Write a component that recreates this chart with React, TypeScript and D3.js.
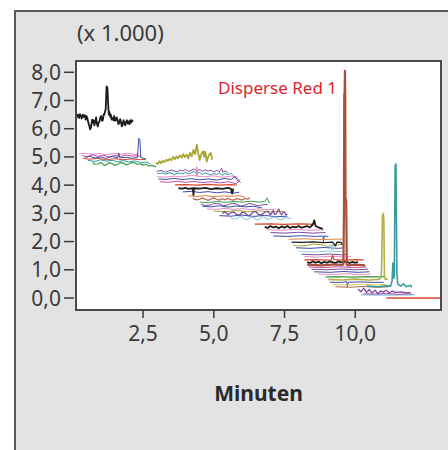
import React from "react";
import * as d3 from "d3";

// ---------- data (time in min, intensity in x1000) ----------
const xTicks = [2.5, 5.0, 7.5, 10.0];
const yTicks = [0, 1, 2, 3, 4, 5, 6, 7, 8];
const yUnitLabel = "(x 1.000)";
const xTitle = "Minuten";
const peakLabel = "Disperse Red 1";

type P = [number, number];

const w1Black: P[] = [[0.13,6.55],[0.17,6.42],[0.2,6.5],[0.24,6.38],[0.27,6.52],[0.31,6.44],[0.33,6.36],[0.37,6.5],[0.4,6.42],[0.44,6.48],[0.47,6.32],[0.5,6.45],[0.53,6.38],[0.57,6.2],[0.6,6.1],[0.63,5.98],[0.66,6.05],[0.7,6.32],[0.72,6.22],[0.75,6.3],[0.78,6.12],[0.81,6.25],[0.84,6.4],[0.87,6.18],[0.9,6.08],[0.93,6.22],[0.96,6.25],[0.99,6.4],[1.02,6.45],[1.05,6.28],[1.08,6.3],[1.11,6.52],[1.13,6.5],[1.16,6.62],[1.18,6.7],[1.21,7.5],[1.24,7.45],[1.27,6.8],[1.29,6.5],[1.31,6.6],[1.34,6.42],[1.36,6.5],[1.39,6.32],[1.42,6.38],[1.45,6.3],[1.48,6.45],[1.51,6.28],[1.54,6.3],[1.57,6.4],[1.6,6.3],[1.63,6.16],[1.66,6.22],[1.69,6.34],[1.72,6.24],[1.75,6.08],[1.78,6.15],[1.81,6.3],[1.84,6.2],[1.87,6.12],[1.9,6.24],[1.93,6.3],[1.96,6.18],[1.99,6.26],[2.02,6.16],[2.05,6.3],[2.08,6.22],[2.11,6.3],[2.14,6.25]];

const w2Pink: P[] = [[0.25,5.1],[0.45,5.13],[0.7,5.09],[0.95,5.12],[1.2,5.08],[1.45,5.12],[1.7,5.1],[1.95,5.13],[2.2,5.09],[2.33,5.11]];
const w2Magenta: P[] = [[0.35,5.05],[0.55,5.0],[0.7,5.08],[0.9,5.02],[1.1,5.06],[1.3,5.0],[1.5,5.05],[1.7,5.02],[1.9,5.07],[2.1,5.03],[2.3,5.05],[2.45,5.0]];
const w2Blue: P[] = [[0.45,4.98],[0.6,5.03],[0.8,4.96],[1.0,5.0],[1.2,4.95],[1.4,5.02],[1.6,4.97],[1.64,5.14],[1.68,4.97],[1.9,4.99],[2.1,4.95],[2.3,4.98],[2.35,5.66],[2.39,5.6],[2.42,4.98],[2.6,4.93]];
const w2Red: P[] = [[0.37,4.95],[0.6,4.92],[0.9,4.95],[1.2,4.9],[1.5,4.94],[1.8,4.9],[2.1,4.93],[2.4,4.9],[2.6,4.92]];
const w2Teal: P[] = [[0.55,4.88],[0.8,4.84],[1.0,4.9],[1.2,4.85],[1.4,4.88],[1.6,4.83],[1.8,4.87],[2.0,4.82],[2.2,4.86],[2.4,4.8],[2.6,4.82],[2.75,4.76]];
const w2Green: P[] = [[0.72,4.8],[0.8,4.74],[0.9,4.75],[1.0,4.8],[1.05,4.78],[1.12,4.7],[1.2,4.72],[1.3,4.79],[1.4,4.77],[1.5,4.7],[1.6,4.74],[1.7,4.8],[1.8,4.78],[1.9,4.72],[2.0,4.75],[2.1,4.8],[2.2,4.79],[2.3,4.73],[2.4,4.76],[2.5,4.71],[2.6,4.74],[2.7,4.68],[2.8,4.7],[2.96,4.65]];

const w3Olive: P[] = [[2.96,4.8],[3.02,4.75],[3.08,4.85],[3.14,4.78],[3.2,4.86],[3.26,4.82],[3.32,4.9],[3.38,4.86],[3.44,4.93],[3.5,4.88],[3.56,5.0],[3.62,4.92],[3.68,5.02],[3.74,4.95],[3.8,5.05],[3.86,4.98],[3.92,5.1],[3.98,5.0],[4.04,5.08],[4.1,4.95],[4.16,5.15],[4.22,5.02],[4.28,5.25],[4.34,5.1],[4.4,5.43],[4.44,5.2],[4.5,4.89],[4.56,5.1],[4.62,5.2],[4.66,5.0],[4.7,5.19],[4.75,4.83],[4.8,5.0],[4.85,5.1],[4.9,5.14],[4.94,4.9]];

const w4Purple: P[] = [[2.98,4.48],[3.1,4.52],[3.2,4.5],[3.3,4.46],[3.4,4.5],[3.5,4.54],[3.6,4.5],[3.7,4.47],[3.8,4.53],[3.9,4.5],[4.0,4.56],[4.1,4.49],[4.2,4.52],[4.3,4.58],[4.4,4.5],[4.5,4.55],[4.6,4.49],[4.7,4.54],[4.8,4.5],[4.9,4.53],[5.0,4.47],[5.1,4.52],[5.2,4.48],[5.28,4.6],[5.32,4.46],[5.4,4.5],[5.5,4.45]];
const w4Teal: P[] = [[3.0,4.4],[3.15,4.43],[3.3,4.39],[3.45,4.44],[3.6,4.38],[3.75,4.43],[3.9,4.4],[4.0,4.46],[4.1,4.4],[4.2,4.44],[4.3,4.48],[4.4,4.41],[4.5,4.45],[4.6,4.38],[4.7,4.44],[4.8,4.4],[4.9,4.36],[5.0,4.42],[5.1,4.38],[5.2,4.43],[5.3,4.35],[5.4,4.41],[5.5,4.38],[5.6,4.42],[5.7,4.33]];
const w4Pink: P[] = [[3.0,4.3],[3.3,4.28],[3.6,4.32],[3.9,4.29],[4.2,4.35],[4.38,4.32],[4.4,4.66],[4.43,4.3],[4.7,4.3],[5.0,4.33],[5.3,4.28],[5.6,4.32],[5.8,4.3],[5.9,4.15]];
const w4Blue: P[] = [[3.05,4.22],[3.3,4.2],[3.6,4.24],[3.9,4.2],[4.2,4.23],[4.5,4.19],[4.8,4.22],[5.1,4.18],[5.4,4.24],[5.6,4.2],[5.75,4.3],[5.85,4.15],[5.95,4.1]];
const w4Magenta: P[] = [[3.1,4.12],[3.4,4.1],[3.7,4.14],[4.0,4.1],[4.3,4.13],[4.6,4.09],[4.9,4.12],[5.2,4.08],[5.5,4.12],[5.8,4.05],[5.93,4.2]];

const w5Red: P[] = [[3.63,4.01],[4.0,4.02],[4.4,4.0],[4.8,4.03],[5.2,4.0],[5.6,4.02],[5.81,4.0]];
const w5Black: P[] = [[3.75,3.89],[3.9,3.88],[4.0,3.9],[4.1,3.87],[4.26,3.89],[4.28,3.65],[4.3,3.89],[4.5,3.88],[4.7,3.9],[4.9,3.86],[5.1,3.89],[5.3,3.87],[5.5,3.9],[5.6,3.88],[5.65,3.7],[5.69,3.88]];
const w5Blue: P[] = [[3.9,3.76],[4.2,3.78],[4.5,3.74],[4.8,3.77],[5.1,3.73],[5.4,3.76],[5.7,3.72],[5.9,3.75]];
const w5Orange: P[] = [[4.1,3.62],[4.4,3.6],[4.7,3.63],[5.0,3.59],[5.3,3.62],[5.6,3.6],[5.9,3.63],[6.1,3.58]];
const w5Red2: P[] = [[4.26,3.52],[4.4,3.48],[4.5,3.5],[4.6,3.54],[4.7,3.5],[4.8,3.46],[4.9,3.51],[5.0,3.55],[5.1,3.5],[5.2,3.47],[5.3,3.52],[5.4,3.48],[5.5,3.53],[5.6,3.49],[5.7,3.47],[5.8,3.52],[5.9,3.5],[6.0,3.47],[6.1,3.53],[6.2,3.5],[6.28,3.55]];

const w6Green: P[] = [[4.5,3.4],[4.8,3.38],[5.1,3.42],[5.4,3.39],[5.7,3.42],[6.0,3.4],[6.3,3.43],[6.6,3.4],[6.8,3.42],[6.88,3.55],[6.95,3.38],[7.0,3.4]];
const w6Purple: P[] = [[4.55,3.32],[4.7,3.28],[4.9,3.3],[5.0,3.35],[5.2,3.34],[5.35,3.27],[5.5,3.3],[5.65,3.36],[5.8,3.33],[5.95,3.26],[6.1,3.29],[6.25,3.35],[6.4,3.32],[6.55,3.27],[6.7,3.3],[6.9,3.32]];
const w6Blue: P[] = [[4.6,3.25],[4.9,3.23],[5.2,3.27],[5.5,3.22],[5.8,3.26],[6.1,3.23],[6.4,3.25],[6.7,3.2]];
const w6Pink: P[] = [[4.75,3.16],[5.1,3.14],[5.4,3.18],[5.7,3.14],[6.0,3.17],[6.3,3.13],[6.6,3.16],[6.9,3.13],[7.2,3.15]];

const w7Olive: P[] = [[5.0,3.08],[5.4,3.06],[5.8,3.1],[6.2,3.06],[6.6,3.09],[7.0,3.05],[7.3,3.08],[7.5,3.05]];
const w7Purple: P[] = [[5.3,3.0],[5.4,3.06],[5.5,2.95],[5.6,3.02],[5.7,3.05],[5.8,2.96],[5.9,2.93],[6.0,3.04],[6.1,3.02],[6.2,2.92],[6.3,2.95],[6.4,3.06],[6.5,3.05],[6.6,2.94],[6.7,2.96],[6.8,3.04],[6.9,3.08],[7.0,2.95],[7.05,3.02],[7.1,3.1],[7.15,2.96],[7.2,2.98],[7.25,3.06],[7.3,3.15],[7.35,3.0],[7.4,2.95],[7.45,3.04],[7.5,3.05],[7.55,2.94],[7.6,2.98]];
const w7Blue: P[] = [[5.2,2.92],[5.6,2.9],[6.0,2.94],[6.4,2.89],[6.8,2.93],[7.2,2.88],[7.6,2.9]];
const w7Cyan: P[] = [[5.6,2.85],[5.7,2.8],[5.8,2.8],[5.9,2.88],[6.0,2.88],[6.1,2.8],[6.2,2.78],[6.3,2.87],[6.4,2.86],[6.5,2.78],[6.6,2.79],[6.7,2.88],[6.8,2.87],[6.9,2.79],[7.0,2.8],[7.1,2.87],[7.2,2.86],[7.3,2.79],[7.4,2.78],[7.5,2.86],[7.6,2.84],[7.75,2.8]];

const w8Red: P[] = [[6.45,2.62],[7.0,2.63],[7.5,2.61],[8.0,2.63],[8.4,2.62],[8.5,2.6]];
const w8Black: P[] = [[6.8,2.52],[6.9,2.48],[7.0,2.55],[7.1,2.5],[7.2,2.53],[7.3,2.47],[7.4,2.54],[7.5,2.49],[7.6,2.55],[7.7,2.48],[7.8,2.53],[7.9,2.5],[8.0,2.55],[8.1,2.49],[8.2,2.52],[8.3,2.55],[8.4,2.5],[8.5,2.6],[8.55,2.75],[8.6,2.55],[8.7,2.5],[8.85,2.45]];
const w8Pink: P[] = [[6.9,2.42],[7.4,2.4],[7.9,2.43],[8.4,2.4],[8.9,2.42]];
const w8Purple: P[] = [[7.0,2.32],[7.5,2.3],[8.0,2.33],[8.5,2.3],[8.95,2.32]];
const w8Blue: P[] = [[7.1,2.2],[7.6,2.18],[8.1,2.21],[8.6,2.18],[8.86,2.2],[8.88,2.0],[8.9,2.2],[9.05,2.18]];

const w9Orange: P[] = [[7.65,2.08],[8.2,2.1],[8.8,2.07],[9.4,2.09],[9.55,2.08]];
const w9Black: P[] = [[7.75,1.98],[8.1,1.97],[8.5,1.99],[8.9,1.96],[9.2,1.98],[9.3,1.85],[9.35,1.98],[9.5,1.97],[9.55,1.88]];
const w9Olive: P[] = [[7.8,1.88],[8.0,1.84],[8.3,1.86],[8.5,1.91],[8.8,1.89],[9.0,1.84],[9.3,1.86],[9.45,1.9],[9.6,1.88]];
const w9Blue: P[] = [[7.9,1.78],[8.4,1.76],[8.9,1.79],[9.4,1.76],[9.6,1.78]];
const w9Cyan: P[] = [[8.0,1.65],[8.5,1.63],[9.0,1.66],[9.15,1.64],[9.18,1.92],[9.22,1.64],[9.5,1.65],[9.62,1.63]];
const w9Purple: P[] = [[8.1,1.55],[8.6,1.53],[9.1,1.56],[9.5,1.53],[9.7,1.55]];
const w9Pink: P[] = [[8.2,1.47],[8.7,1.45],[9.2,1.48],[9.7,1.45],[9.85,1.47]];

const w10Red: P[] = [[8.2,1.35],[8.6,1.36],[9.0,1.34],[9.15,1.35],[9.2,1.52],[9.25,1.36],[9.6,1.34],[10.0,1.36],[10.3,1.35]];
const w10Black: P[] = [[8.3,1.27],[8.4,1.24],[8.5,1.3],[8.6,1.25],[8.7,1.29],[8.8,1.23],[8.9,1.28],[9.0,1.25],[9.1,1.3],[9.3,1.24],[9.4,1.3],[9.5,1.26],[9.7,1.29],[9.8,1.24],[9.9,1.28],[10.0,1.25],[10.1,1.28]];
const w10DisperseRed: P[] = [[8.3,1.18],[8.8,1.16],[9.3,1.19],[9.55,1.17],[9.58,1.2],[9.6,3.0],[9.61,7.2],[9.625,7.3],[9.635,8.05],[9.645,7.2],[9.655,3.55],[9.68,3.45],[9.7,1.2],[9.72,1.16],[10.0,1.18],[10.35,1.16]];
const w10Magenta: P[] = [[8.35,1.1],[8.9,1.08],[9.4,1.11],[9.9,1.08],[10.4,1.1]];
const w10Purple: P[] = [[8.45,1.02],[9.0,1.0],[9.5,1.03],[10.0,1.0],[10.45,1.02]];
const w10Blue: P[] = [[8.55,0.93],[9.1,0.91],[9.6,0.94],[10.1,0.91],[10.5,0.93]];
const w10Pink: P[] = [[8.7,0.85],[9.2,0.83],[9.7,0.86],[10.2,0.83],[10.55,0.85]];

const w11Green: P[] = [[8.95,0.75],[9.4,0.76],[9.9,0.74],[10.4,0.76],[10.9,0.75],[11.05,0.76]];
const w11Olive: P[] = [[9.05,0.66],[9.5,0.64],[10.0,0.67],[10.5,0.64],[10.85,0.66],[10.92,0.8],[10.94,1.6],[10.96,2.9],[10.99,3.0],[11.01,2.8],[11.03,0.8],[11.06,0.66],[11.15,0.68]];
const w11Blue: P[] = [[9.1,0.56],[9.5,0.55],[9.7,0.58],[9.72,0.4],[9.75,0.56],[10.2,0.57],[10.7,0.55],[11.0,0.56]];
const w11Yellow: P[] = [[9.2,0.48],[9.7,0.46],[10.2,0.49],[10.7,0.46],[11.1,0.48]];
const w11Brown: P[] = [[9.3,0.4],[9.8,0.38],[10.3,0.41],[10.8,0.38],[11.2,0.4]];

const w12Purple: P[] = [[10.1,0.32],[10.2,0.22],[10.3,0.35],[10.4,0.2],[10.5,0.3],[10.6,0.18],[10.7,0.28],[10.8,0.15],[10.9,0.25],[11.0,0.2],[11.1,0.28],[11.2,0.18],[11.3,0.25],[11.4,0.2],[11.6,0.22],[11.8,0.18],[11.95,0.2]];
const w12Magenta: P[] = [[10.3,0.15],[10.7,0.14],[11.1,0.16],[11.5,0.13],[11.9,0.15],[12.0,0.14]];
const w12Teal: P[] = [[10.4,0.42],[10.8,0.4],[11.1,0.43],[11.25,0.42],[11.3,0.6],[11.33,1.24],[11.36,0.7],[11.38,0.8],[11.41,4.7],[11.44,4.75],[11.47,0.9],[11.5,0.5],[11.6,0.42],[11.7,0.5],[11.8,0.4],[11.95,0.45],[12.0,0.38]];
const w12Cyan: P[] = [[10.2,0.12],[10.7,0.11],[11.2,0.12],[11.7,0.11],[12.1,0.12]];
const w13Red: P[] = [[11.1,0.0],[12.0,0.0],[13.03,0.0]];

// ---------- styles ----------
const C = {
  black: "#1c1c1c", red: "#d8442c", pink: "#e58ac4", magenta: "#c448a8",
  purple: "#7a4c9e", blue: "#3c4ca4", teal: "#2c9a9c", green: "#3c9c4c",
  olive: "#a6a632", cyan: "#94d0e2", orange: "#e2803c", brown: "#a8684a",
  yellow: "#d8c850", dred: "#b8604a", khaki: "#b4b048", tealpk: "#3a9c9c",
  peak: "#a8503c",
};

const traces: { d: P[]; c: string; w: number }[] = [
  { d: w1Black, c: C.black, w: 1.8 },
  { d: w2Pink, c: C.pink, w: 1 }, { d: w2Magenta, c: C.magenta, w: 1 },
  { d: w2Red, c: C.red, w: 1 }, { d: w2Teal, c: C.teal, w: 1 },
  { d: w2Green, c: C.green, w: 1.2 }, { d: w2Blue, c: C.blue, w: 1 },
  { d: w3Olive, c: C.olive, w: 1.8 },
  { d: w4Purple, c: C.purple, w: 1 }, { d: w4Teal, c: C.teal, w: 1 },
  { d: w4Pink, c: C.pink, w: 1 }, { d: w4Blue, c: C.blue, w: 1 },
  { d: w4Magenta, c: C.magenta, w: 1 },
  { d: w5Red, c: C.red, w: 1.2 }, { d: w5Blue, c: C.blue, w: 1 },
  { d: w5Orange, c: C.orange, w: 1 }, { d: w5Red2, c: C.dred, w: 1.2 },
  { d: w5Black, c: C.black, w: 1.8 },
  { d: w6Green, c: C.green, w: 1 }, { d: w6Purple, c: C.purple, w: 1 },
  { d: w6Blue, c: C.blue, w: 1 }, { d: w6Pink, c: C.pink, w: 1 },
  { d: w7Olive, c: C.olive, w: 1 }, { d: w7Blue, c: C.blue, w: 1 },
  { d: w7Cyan, c: C.cyan, w: 1.2 }, { d: w7Purple, c: C.purple, w: 1.3 },
  { d: w8Red, c: C.red, w: 1.2 }, { d: w8Pink, c: C.pink, w: 1 },
  { d: w8Purple, c: C.purple, w: 1 }, { d: w8Blue, c: C.blue, w: 1 },
  { d: w8Black, c: C.black, w: 1.8 },
  { d: w9Orange, c: C.orange, w: 1 }, { d: w9Olive, c: C.olive, w: 1 },
  { d: w9Blue, c: C.blue, w: 1 }, { d: w9Cyan, c: C.cyan, w: 1 },
  { d: w9Purple, c: C.purple, w: 1 }, { d: w9Pink, c: C.pink, w: 1 },
  { d: w9Black, c: C.black, w: 1.3 },
  { d: w10Magenta, c: C.magenta, w: 1 }, { d: w10Purple, c: C.purple, w: 1 },
  { d: w10Blue, c: C.blue, w: 1 }, { d: w10Pink, c: C.pink, w: 1 },
  { d: w10Red, c: C.red, w: 1.2 }, { d: w10Black, c: C.black, w: 1.8 },
  { d: w11Green, c: C.green, w: 1.2 }, { d: w11Blue, c: C.blue, w: 1 },
  { d: w11Yellow, c: C.yellow, w: 1 }, { d: w11Brown, c: C.brown, w: 1 },
  { d: w12Cyan, c: C.cyan, w: 1.6 }, { d: w12Magenta, c: C.magenta, w: 1 },
  { d: w12Purple, c: C.purple, w: 1.3 },
  { d: w13Red, c: C.red, w: 1.4 },
  { d: w11Olive, c: C.khaki, w: 1.6 },
  { d: w12Teal, c: C.tealpk, w: 1.6 },
  { d: w10DisperseRed, c: C.peak, w: 2.2 },
];

export default function App() {
  const W = 448, H = 450;
  const L = 76, R = 441, T = 61, B = 310;
  const x = d3.scaleLinear().domain([0.13, 13.03]).range([L, R]);
  const y = d3.scaleLinear().domain([-0.425, 8.4]).range([B, T]);
  const line = d3.line<P>().x((p) => x(p[0])).y((p) => y(p[1]));
  const font = "'Noto Sans', 'Open Sans', sans-serif";
  const tickCol = "#3a3a3a";
  return (
    <div style={{ position: "absolute", left: 0, top: 0 }}>
      <svg width={W} height={H} style={{ display: "block", background: "#fff" }}>
        <rect x={15} y={11} width={W} height={H} fill="#e3e3e3" stroke="#5a5a5a" strokeWidth={2} />
        <text x={77} y={41} fontFamily={font} fontSize={22} fill={tickCol}>{yUnitLabel}</text>
        <rect x={L} y={T} width={R - L} height={B - T} fill="#ffffff" />
        <g>
          {traces.map((t, i) => (
            <path key={i} d={line(t.d) || ""} fill="none" stroke={t.c} strokeWidth={t.w} strokeLinejoin="round" />
          ))}
        </g>
        <rect x={L} y={T} width={R - L} height={B - T} fill="none" stroke="#4a4a4a" strokeWidth={2} />
        {yTicks.map((v) => (
          <g key={v}>
            <line x1={64} x2={74} y1={y(v)} y2={y(v)} stroke={tickCol} strokeWidth={1.5} />
            <text x={61} y={y(v) + 7.5} textAnchor="end" fontFamily={font} fontSize={21} fill={tickCol}>
              {v.toFixed(1).replace(".", ",")}
            </text>
          </g>
        ))}
        {xTicks.map((v) => (
          <g key={v}>
            <line x1={x(v)} x2={x(v)} y1={B} y2={B + 8} stroke={tickCol} strokeWidth={1.5} />
            <text x={x(v)} y={341} textAnchor="middle" fontFamily={font} fontSize={21} fill={tickCol}>
              {v.toFixed(1).replace(".", ",")}
            </text>
          </g>
        ))}
        <text x={(L + R) / 2} y={401} textAnchor="middle" fontFamily={font} fontSize={21} fontWeight="bold" fill="#2a2a2a">{xTitle}</text>
        <text x={337} y={94} textAnchor="end" fontFamily={font} fontSize={17} fill="#d8262e">{peakLabel}</text>
      </svg>
    </div>
  );
}
